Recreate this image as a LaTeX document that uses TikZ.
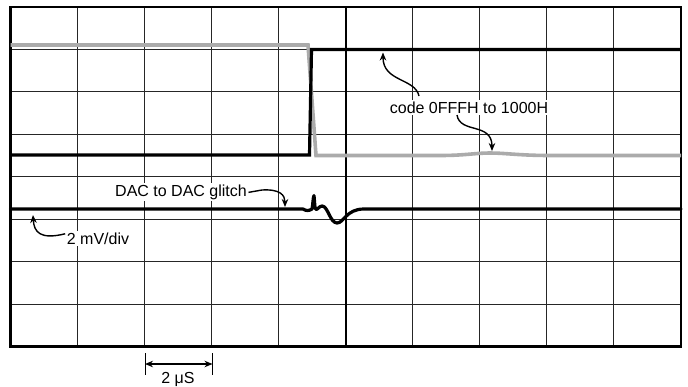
\documentclass[tikz,border=0pt]{standalone}
\usepackage{fontspec}
\setmainfont{Liberation Sans}
\usetikzlibrary{arrows.meta}
\begin{document}
\begin{tikzpicture}[x=1pt,y=-1pt,
  gridline/.style={black!85,line width=1pt},
  centerline/.style={black,line width=1.6pt},
  frame/.style={black,line width=2.3pt},
  blacktrace/.style={black,line width=3.2pt,line join=miter},
  graytrace/.style={black!33,line width=3.6pt,line join=miter},
  lbl/.style={font=\fontsize{16}{19}\selectfont,fill=white,inner sep=1.5pt,anchor=base},
  arr/.style={-{Stealth[length=8pt,width=6.5pt]},line width=1.4pt},
  dim/.style={{Stealth[length=8pt,width=6.5pt]}-{Stealth[length=8pt,width=6.5pt]},line width=1.3pt}]
\useasboundingbox (0,0) rectangle (688,386);
% grid
\foreach \i in {1,2,3,4,6,7,8,9}{
  \draw[gridline] ({10.5+\i*67.05},6.8) -- ({10.5+\i*67.05},346.6);
}
\foreach \j in {1,2,3,4,5,6,7}{
  \draw[gridline] (10.5,{6.8+\j*42.475}) -- (681,{6.8+\j*42.475});
}
\draw[centerline] (345.75,6.8) -- (345.75,346.6);
\draw[frame] (10.5,6.8) rectangle (681,346.6);
% traces
\draw[graytrace] (10.5,45) -- (308,45) -- (316,155.5) -- (440,155.5)
  .. controls (465,155.5) and (475,153) .. (490,153)
  .. controls (505,153) and (520,155.5) .. (550,155.5) -- (681,155.5);
\draw[blacktrace] (10.5,155) -- (309.5,155) -- (311.5,49.5) -- (681,49.5);
\draw[blacktrace,line join=round,line cap=round] (10.5,209) -- (303,209)
  .. controls (306,211) and (309,211) .. (312,209)
  .. controls (313,204) and (313,197) .. (314,195.5)
  .. controls (314.5,199) and (314.5,206) .. (315.5,209)
  .. controls (317,211) and (319,206) .. (322,206)
  .. controls (328,206) and (330,223) .. (337,223)
  .. controls (344,223) and (346,209) .. (364,209) -- (681,209);
% labels
\node[lbl] (code) at (469,113.5) {code 0FFFH to 1000H};
\node[lbl] (dac) at (181,196.5) {DAC to DAC glitch};
\node[lbl] (mv) at (98,244) {2 mV/div};
\node[font=\fontsize{16}{19}\selectfont,inner sep=0pt,anchor=base] (us) at (178,383.5) {2 μS};
% arrows
\coordinate (c1s) at (419,96);
\coordinate (c1t) at (383,52.5);
\coordinate (c2s) at (457,115);
\coordinate (c2t) at (492,151);
\coordinate (dt) at (285,207);
\coordinate (mt) at (33,215);
\draw[arr] (c1s) .. controls (415,78) and (383,82) .. (c1t);
\draw[arr] (c2s) .. controls (460,134) and (492,122) .. (c2t);
\draw[arr] (dac.east) -- (262,190) .. controls (280,189) and (285,195) .. (dt);
\draw[arr] (mv.west) ++(0,-4.5) .. controls (40,240) and (34,232) .. (mt);
% dimension
\coordinate (d1) at (145,353);
\coordinate (d2) at (212.5,353);
\draw[line width=1pt] (d1) -- ++(0,22);
\draw[line width=1pt] (d2) -- ++(0,22);
\draw[dim] ([yshift=-11pt]d1) -- ([yshift=-11pt]d2);
\end{tikzpicture}
\end{document}
